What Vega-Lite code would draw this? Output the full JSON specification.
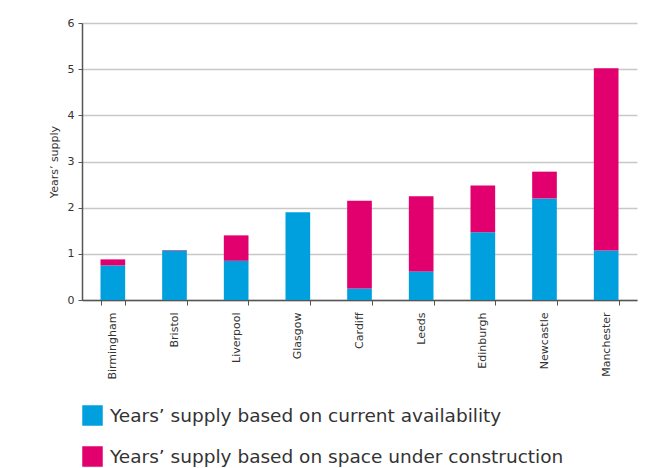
{
  "$schema": "https://vega.github.io/schema/vega-lite/v6.json",
  "width": 555,
  "height": 277,
  "autosize": {"type": "none"},
  "padding": {"left": 82, "top": 23, "right": 28, "bottom": 168},
  "background": "white",
  "config": {
    "view": {"stroke": null},
    "font": "DejaVu Sans"
  },
  "data": {
    "values": [
      {"city": "Birmingham", "series": "Years’ supply based on current availability", "value": 0.75},
      {"city": "Birmingham", "series": "Years’ supply based on space under construction", "value": 0.13},
      {"city": "Bristol", "series": "Years’ supply based on current availability", "value": 1.07},
      {"city": "Bristol", "series": "Years’ supply based on space under construction", "value": 0.01},
      {"city": "Liverpool", "series": "Years’ supply based on current availability", "value": 0.85},
      {"city": "Liverpool", "series": "Years’ supply based on space under construction", "value": 0.55},
      {"city": "Glasgow", "series": "Years’ supply based on current availability", "value": 1.9},
      {"city": "Glasgow", "series": "Years’ supply based on space under construction", "value": 0},
      {"city": "Cardiff", "series": "Years’ supply based on current availability", "value": 0.25},
      {"city": "Cardiff", "series": "Years’ supply based on space under construction", "value": 1.9},
      {"city": "Leeds", "series": "Years’ supply based on current availability", "value": 0.62},
      {"city": "Leeds", "series": "Years’ supply based on space under construction", "value": 1.63},
      {"city": "Edinburgh", "series": "Years’ supply based on current availability", "value": 1.47},
      {"city": "Edinburgh", "series": "Years’ supply based on space under construction", "value": 1.01},
      {"city": "Newcastle", "series": "Years’ supply based on current availability", "value": 2.2},
      {"city": "Newcastle", "series": "Years’ supply based on space under construction", "value": 0.58},
      {"city": "Manchester", "series": "Years’ supply based on current availability", "value": 1.07},
      {"city": "Manchester", "series": "Years’ supply based on space under construction", "value": 3.95}
    ]
  },
  "mark": {"type": "bar"},
  "encoding": {
    "x": {
      "field": "city",
      "type": "nominal",
      "sort": null,
      "scale": {"paddingInner": 0.6, "paddingOuter": 0.3},
      "axis": {
        "title": null,
        "labelAngle": -90,
        "labelFontSize": 11,
        "labelColor": "#333333",
        "labelPadding": 7,
        "domainColor": "#555555",
        "domainWidth": 1.5,
        "tickColor": "#555555",
        "tickBand": "extent",
        "tickSize": 5
      }
    },
    "y": {
      "field": "value",
      "type": "quantitative",
      "aggregate": "sum",
      "stack": "zero",
      "scale": {"domain": [0, 6], "nice": false},
      "axis": {
        "title": "Years’ supply",
        "titleFontSize": 11,
        "titleFontWeight": "normal",
        "titleColor": "#333333",
        "titlePadding": 8,
        "values": [0, 1, 2, 3, 4, 5, 6],
        "labelFontSize": 11,
        "labelColor": "#333333",
        "labelPadding": 4,
        "domainColor": "#555555",
        "domainWidth": 1.5,
        "tickColor": "#555555",
        "tickSize": 4,
        "gridColor": "#c8c8c8",
        "gridWidth": 1.5
      }
    },
    "color": {
      "field": "series",
      "type": "nominal",
      "scale": {
        "domain": ["Years’ supply based on current availability", "Years’ supply based on space under construction"],
        "range": ["#00A0DF", "#E2006F"]
      },
      "legend": {
        "title": null,
        "orient": "none",
        "legendX": 0,
        "legendY": 382,
        "symbolType": "square",
        "symbolSize": 420,
        "symbolStrokeWidth": 0,
        "labelFontSize": 18.5,
        "labelColor": "#333333",
        "labelOffset": 7,
        "rowPadding": 20,
        "labelLimit": 600
      }
    },
    "order": {"field": "series", "sort": "ascending"}
  }
}
